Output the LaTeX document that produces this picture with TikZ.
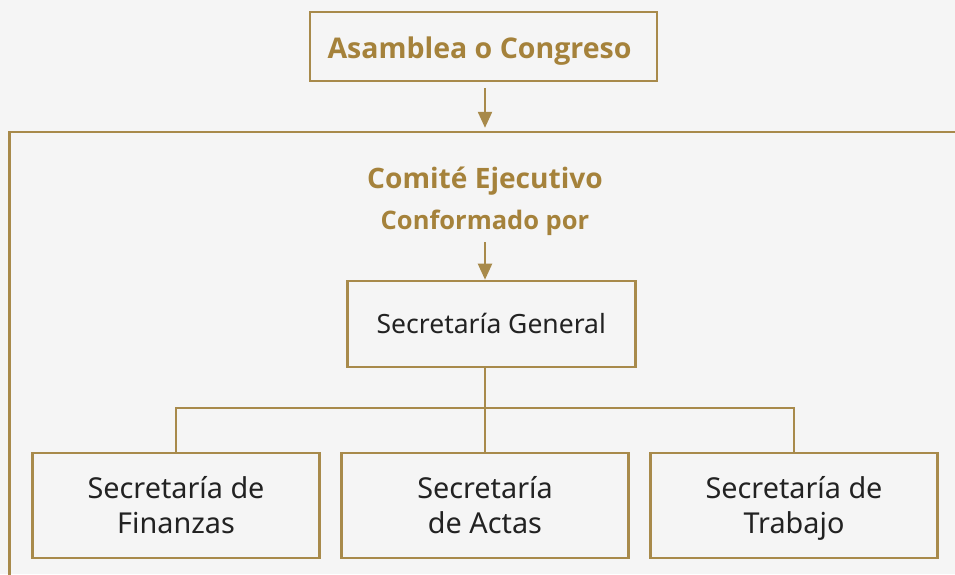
\documentclass[tikz,border=0pt]{standalone}
\usepackage{fontspec}
\setmainfont{Noto Sans}
\newfontfamily\hbold{Open Sans}
\usetikzlibrary{arrows.meta}
\definecolor{bgc}{HTML}{F5F5F5}
\definecolor{gold}{HTML}{A88A4B}
\definecolor{goldtxt}{HTML}{A5823B}
\definecolor{ink}{HTML}{222222}
\newcommand\tstrut{\rule{0pt}{28pt}}
\newcommand\bstrut{\rule[-7.4pt]{0pt}{7.4pt}}
\begin{document}
\begin{tikzpicture}[x=1pt,y=-1pt,
  box/.style={draw=gold,line width=2.6pt,fill=bgc,inner sep=0pt,align=center},
  headbox/.style={box,minimum width=347pt,minimum height=69pt,text height=30pt,text depth=6.4pt,font=\hbold\fontsize{28.5}{32}\selectfont\bfseries,text=goldtxt},
  genbox/.style={box,minimum width=288pt,minimum height=86pt,text height=25pt,text depth=6.4pt,font=\fontsize{26.5}{32}\selectfont,text=ink},
  subbox/.style={box,minimum width=287pt,minimum height=105pt,font=\fontsize{28.8}{35}\selectfont,text=ink},
  lbl/.style={inner sep=0pt,anchor=base,text=goldtxt},
  conn/.style={draw=gold,line width=2.2pt},
  arr/.style={conn,-{Triangle[width=14pt,length=16pt]}}]
\useasboundingbox (0,0) rectangle (955,574);
\fill[bgc] (0,0) rectangle (955,574);
\clip (0,0) rectangle (955,574);
% container
\node[draw=gold,line width=2.4pt,minimum width=951pt,minimum height=490pt,inner sep=0pt] (cont) at (485,377) {};
\node[headbox] (asam) at (483.5,46.5) {Asamblea o Congreso\hspace*{8pt}};
\draw[arr,shorten <=6pt,shorten >=3pt] (asam.south -| cont.north) -- (cont.north);
\node[lbl,font=\hbold\fontsize{28.1}{32}\selectfont\bfseries] (comite) at (485,188.3) {Comité Ejecutivo};
\node[lbl,font=\hbold\fontsize{25.5}{28}\selectfont\bfseries] (conf) at (485,229) {Conformado por};
\node[genbox] (gen) at (491.3,324) {Secretaría General};
\node[subbox] (b1) at (176,505.5) {\tstrut Secretaría de\\Finanzas\bstrut};
\node[subbox] (b2) at (485,505.5) {\tstrut Secretaría\\de Actas\bstrut};
\node[subbox] (b3) at (794,505.5) {\tstrut Secretaría de\\Trabajo\bstrut};
\draw[arr,shorten <=7pt] (conf.south) -- (gen.north -| conf.south);
\draw[conn] (gen.south -| b2.north) -- (b2.north);
\draw[conn] (b1.north) -- ++(0,-44) -| (b3.north);
\end{tikzpicture}
\end{document}
